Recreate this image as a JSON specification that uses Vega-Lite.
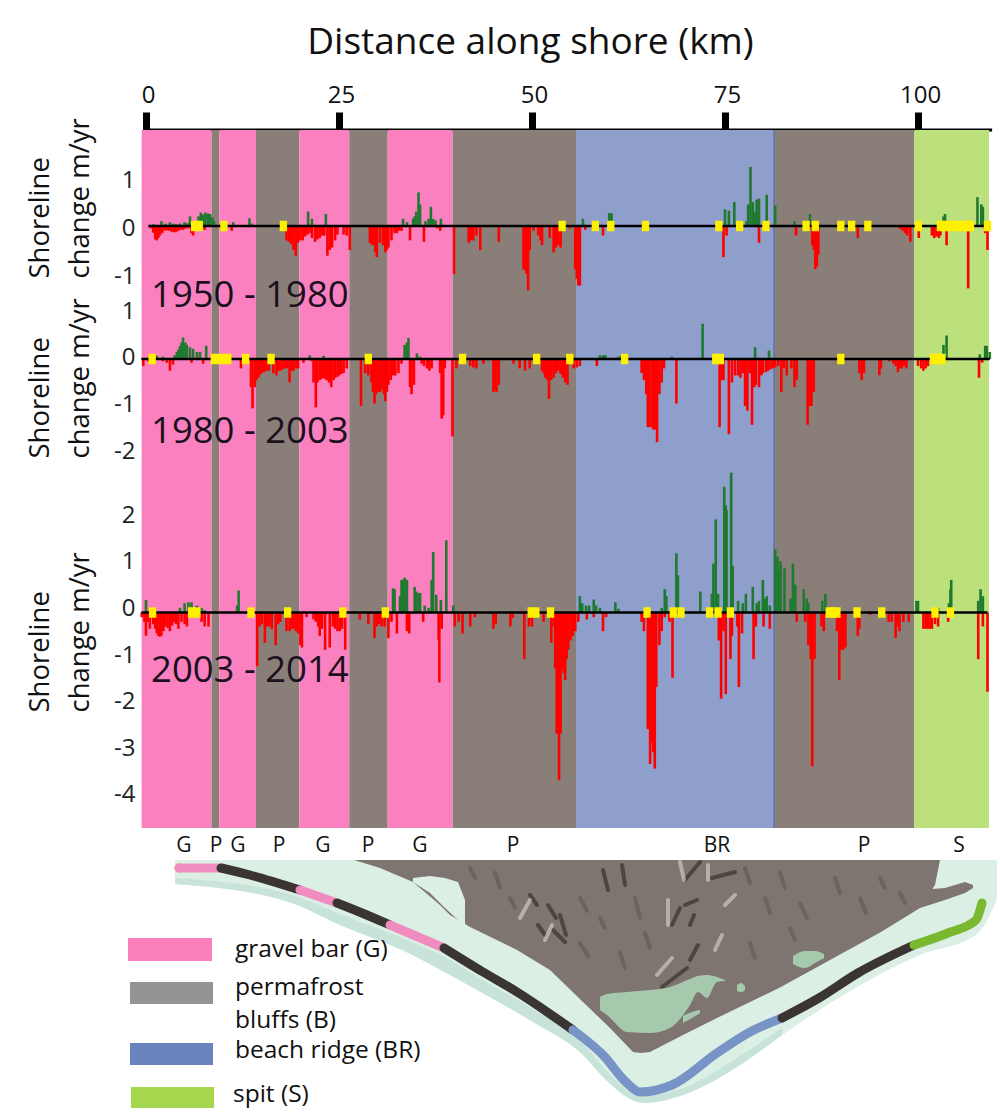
{"$schema":"https://vega.github.io/schema/vega-lite/v6.json","padding":0,"background":"white","spacing":0,"bounds":"flush","config":{"view":{"stroke":null},"font":"Open Sans"},
"datasets":{
"segments":[{"from":-0.56,"to":8.51,"unit":"G"},{"from":8.51,"to":9.49,"unit":"P"},{"from":9.49,"to":14.25,"unit":"G"},{"from":14.25,"to":19.86,"unit":"P"},{"from":19.86,"to":26.33,"unit":"G"},{"from":26.33,"to":31.31,"unit":"P"},{"from":31.31,"to":39.73,"unit":"G"},{"from":39.73,"to":55.7,"unit":"P"},{"from":55.7,"to":81.35,"unit":"BR"},{"from":81.35,"to":99.52,"unit":"P"},{"from":99.52,"to":109.2,"unit":"S"}],
"p1":[{"km":0.6,"v":-0.05},{"km":0.95,"v":-0.14},{"km":1.2,"v":-0.28},{"km":1.4,"v":-0.3},{"km":1.6,"v":-0.25},{"km":1.8,"v":-0.2},{"km":2.1,"v":-0.15},{"km":2.4,"v":-0.1},{"km":2.7,"v":-0.09},{"km":3,"v":-0.1},{"km":3.3,"v":-0.12},{"km":3.6,"v":-0.13},{"km":3.9,"v":-0.13},{"km":4.2,"v":-0.1},{"km":4.5,"v":-0.08},{"km":4.8,"v":-0.08},{"km":5.1,"v":-0.06},{"km":5.5,"v":-0.05},{"km":5.9,"v":-0.15},{"km":6.1,"v":-0.2},{"km":7.6,"v":-0.08},{"km":11.1,"v":-0.1},
{"km":1,"v":0.04},{"km":2,"v":0.1},{"km":2.5,"v":0.05},{"km":3.1,"v":0.08},{"km":3.5,"v":0.05},{"km":3.9,"v":0.04},{"km":4.4,"v":0.05},{"km":5,"v":0.08},{"km":5.4,"v":0.06},{"km":5.7,"v":0.2},{"km":6.8,"v":0.2},{"km":7.1,"v":0.28},{"km":7.4,"v":0.24},{"km":7.7,"v":0.28},{"km":8,"v":0.26},{"km":8.3,"v":0.25},{"km":8.6,"v":0.18},{"km":8.8,"v":0.1},{"km":11.3,"v":0.08},{"km":13.4,"v":0.16},{"km":13.7,"v":0.05},
{"km":18.2,"v":-0.3},{"km":18.5,"v":-0.33},{"km":18.8,"v":-0.38},{"km":19.1,"v":-0.5},{"km":19.4,"v":-0.62},{"km":19.7,"v":-0.35},{"km":20,"v":-0.3},{"km":20.3,"v":-0.3},{"km":20.6,"v":-0.22},{"km":20.9,"v":-0.18},{"km":21.2,"v":-0.15},{"km":21.5,"v":-0.25},{"km":21.9,"v":-0.33},{"km":22.2,"v":-0.28},{"km":22.5,"v":-0.25},{"km":22.8,"v":-0.2},{"km":23.1,"v":-0.2},{"km":23.5,"v":-0.62},{"km":23.8,"v":-0.5},{"km":24.1,"v":-0.45},{"km":24.5,"v":-0.3},{"km":24.8,"v":-0.18},{"km":25.6,"v":-0.18},{"km":26,"v":-0.2},{"km":26.4,"v":-0.5},
{"km":29,"v":-0.35},{"km":29.2,"v":-0.38},{"km":29.4,"v":-0.4},{"km":29.7,"v":-0.55},{"km":29.9,"v":-0.65},{"km":30.3,"v":-0.35},{"km":30.7,"v":-0.4},{"km":31,"v":-0.55},{"km":31.2,"v":-0.5},{"km":31.4,"v":-0.45},{"km":31.8,"v":-0.3},{"km":32.2,"v":-0.15},{"km":32.5,"v":-0.15},{"km":32.8,"v":-0.1},{"km":33.1,"v":-0.1},{"km":34.2,"v":-0.3},{"km":36,"v":-0.33},{"km":37.7,"v":-0.05},{"km":38.1,"v":-0.1},
{"km":21,"v":0.3},{"km":21.5,"v":0.15},{"km":23.3,"v":0.25},{"km":33.3,"v":0.15},{"km":33.8,"v":0.08},{"km":34.6,"v":0.15},{"km":34.8,"v":0.2},{"km":35,"v":0.3},{"km":35.3,"v":0.7},{"km":35.5,"v":0.45},{"km":36.2,"v":0.1},{"km":36.6,"v":0.15},{"km":36.9,"v":0.4},{"km":37.2,"v":0.15},{"km":37.5,"v":0.12},{"km":38.2,"v":0.15},
{"km":39.9,"v":-1.0},{"km":41.8,"v":-0.35},{"km":42.1,"v":-0.3},{"km":42.4,"v":-0.3},{"km":42.8,"v":-0.2},{"km":43.3,"v":-0.5},{"km":45.7,"v":-0.33},{"km":48.9,"v":-0.9},{"km":49.1,"v":-0.92},{"km":49.3,"v":-1.0},{"km":49.5,"v":-1.34},{"km":49.7,"v":-0.5},{"km":50.2,"v":-0.1},{"km":50.8,"v":-0.2},{"km":51.1,"v":-0.3},{"km":51.3,"v":-0.4},{"km":52.3,"v":-0.25},{"km":52.8,"v":-0.55},{"km":53.1,"v":-0.45},{"km":53.4,"v":-0.4},{"km":53.7,"v":-0.45},{"km":54.9,"v":-0.05},{"km":55.6,"v":-0.9},{"km":55.8,"v":-1.1},{"km":56,"v":-1.24},{"km":56.2,"v":-1.24},{"km":56.9,"v":-0.08},{"km":56.6,"v":0.15},{"km":59.2,"v":-0.2},{"km":60,"v":0.27},{"km":60.3,"v":0.27},
{"km":74.8,"v":-0.65},{"km":75.2,"v":-0.2},{"km":75,"v":0.35},{"km":75.5,"v":0.32},{"km":76.2,"v":0.5},{"km":77.8,"v":0.1},{"km":78,"v":0.45},{"km":78.3,"v":1.23},{"km":78.6,"v":0.5},{"km":78.9,"v":0.3},{"km":79.1,"v":0.55},{"km":79.4,"v":0.57},{"km":80.4,"v":0.65},{"km":80,"v":0.1},{"km":81.5,"v":0.42},{"km":79.4,"v":-0.35},{"km":84,"v":0.1},{"km":84.2,"v":-0.2},{"km":86,"v":0.25},{"km":86.3,"v":-0.4},{"km":86.5,"v":-0.5},{"km":86.7,"v":-0.9},{"km":86.9,"v":-0.85},{"km":87.1,"v":-0.6},{"km":92.2,"v":-0.25},{"km":97.7,"v":-0.06},{"km":98,"v":-0.1},{"km":98.3,"v":-0.15},{"km":98.6,"v":-0.2},{"km":99,"v":-0.33},{"km":100.1,"v":-0.25},{"km":101.8,"v":-0.2},{"km":102.1,"v":-0.25},{"km":102.4,"v":-0.22},{"km":102.7,"v":-0.25},{"km":102.9,"v":-0.2},{"km":103.3,"v":0.2},{"km":103.5,"v":0.25},{"km":103.7,"v":-0.4},{"km":106.5,"v":-1.3},{"km":107.7,"v":0.6},{"km":108.2,"v":0.45},{"km":108.4,"v":0.4},{"km":109,"v":-0.5},{"km":108.7,"v":-0.15}],
"p2":[{"km":-0.35,"v":-0.15},{"km":0.3,"v":-0.05},{"km":1.4,"v":0.07},{"km":2.2,"v":0.05},{"km":3.7,"v":0.08},{"km":4,"v":0.15},{"km":4.2,"v":0.2},{"km":4.4,"v":0.28},{"km":4.6,"v":0.35},{"km":4.8,"v":0.46},{"km":5.1,"v":0.35},{"km":5.3,"v":0.3},{"km":5.7,"v":0.25},{"km":6.1,"v":0.22},{"km":6.6,"v":0.15},{"km":7,"v":0.15},{"km":7.8,"v":0.28},{"km":33.5,"v":0.3},{"km":33.8,"v":0.35},{"km":34,"v":0.45},{"km":35.1,"v":0.12},{"km":35.5,"v":0.05},{"km":21.2,"v":0.08},{"km":23,"v":0.07},
{"km":2.2,"v":-0.05},{"km":2.7,"v":-0.08},{"km":3.1,"v":-0.25},{"km":3.5,"v":-0.12},{"km":5.9,"v":-0.08},{"km":7.4,"v":-0.1},{"km":12.3,"v":-0.2},
{"km":13.6,"v":-0.6},{"km":13.8,"v":-1.05},{"km":14.1,"v":-0.6},{"km":14.3,"v":-0.45},{"km":14.55,"v":-0.4},{"km":14.8,"v":-0.33},{"km":15,"v":-0.3},{"km":15.3,"v":-0.28},{"km":15.6,"v":-0.25},{"km":15.9,"v":-0.25},{"km":16.5,"v":-0.3},{"km":16.9,"v":-0.35},{"km":17.1,"v":-0.25},{"km":17.4,"v":-0.25},{"km":17.7,"v":-0.22},{"km":18,"v":-0.2},{"km":18.3,"v":-0.2},{"km":18.6,"v":-0.5},{"km":18.9,"v":-0.25},{"km":19.1,"v":-0.25},{"km":19.4,"v":-0.2},{"km":19.7,"v":-0.2},{"km":20.4,"v":-0.08},{"km":21.5,"v":-0.05},{"km":21.7,"v":-0.5},{"km":22,"v":-1.03},{"km":22.2,"v":-0.5},{"km":22.5,"v":-0.45},{"km":22.8,"v":-0.42},{"km":23,"v":-0.4},{"km":23.2,"v":-0.42},{"km":23.4,"v":-0.45},{"km":23.7,"v":-0.5},{"km":24,"v":-0.6},{"km":24.3,"v":-0.45},{"km":24.5,"v":-0.4},{"km":24.8,"v":-0.38},{"km":25,"v":-0.35},{"km":25.3,"v":-0.32},{"km":25.6,"v":-0.3},{"km":26,"v":-0.2},
{"km":27.85,"v":-1.0},{"km":28.4,"v":-0.3},{"km":28.8,"v":-0.35},{"km":29.2,"v":-0.5},{"km":29.4,"v":-0.7},{"km":29.6,"v":-0.95},{"km":29.8,"v":-0.75},{"km":30.1,"v":-0.7},{"km":30.3,"v":-0.7},{"km":30.5,"v":-0.65},{"km":30.8,"v":-0.75},{"km":31,"v":-0.9},{"km":31.2,"v":-0.7},{"km":31.4,"v":-0.55},{"km":31.7,"v":-0.45},{"km":32,"v":-0.35},{"km":32.3,"v":-0.35},{"km":32.7,"v":-0.3},{"km":33.1,"v":-0.1},{"km":34.2,"v":-0.6},{"km":34.4,"v":-0.75},{"km":34.7,"v":-0.55},{"km":35.7,"v":-0.1},{"km":36,"v":-0.15},{"km":36.4,"v":-0.2},{"km":36.7,"v":-0.25},{"km":37,"v":-0.2},{"km":38.1,"v":-0.3},{"km":38.3,"v":-1.27},{"km":38.5,"v":-1.2},{"km":38.7,"v":-0.2},{"km":39.7,"v":-1.65},{"km":40.2,"v":-0.2},{"km":42,"v":-0.15},{"km":42.4,"v":-0.18},{"km":42.8,"v":-0.2},{"km":43.7,"v":-0.1},{"km":45,"v":-0.7},{"km":45.2,"v":-0.65},{"km":45.4,"v":-0.7},{"km":45.7,"v":-0.55},{"km":47.6,"v":-0.1},{"km":48.4,"v":-0.2},{"km":49.1,"v":-0.25},{"km":49.7,"v":-0.2},{"km":51.3,"v":-0.25},{"km":51.5,"v":-0.3},{"km":51.7,"v":-0.4},{"km":52,"v":-0.45},{"km":52.2,"v":-0.85},{"km":52.5,"v":-0.45},{"km":52.8,"v":-0.4},{"km":53.1,"v":-0.3},{"km":53.4,"v":-0.25},{"km":53.7,"v":-0.32},{"km":54,"v":-0.4},{"km":54.3,"v":-0.5},{"km":54.6,"v":-0.55},{"km":55.4,"v":-0.2},{"km":55.8,"v":-0.18},{"km":56.2,"v":-0.15},{"km":58.4,"v":-0.15},{"km":58.8,"v":0.08},{"km":59.2,"v":0.08},{"km":59.5,"v":0.08},{"km":61.2,"v":0.05},{"km":61.6,"v":0.07},
{"km":64.2,"v":-0.3},{"km":64.5,"v":-0.45},{"km":64.8,"v":-0.75},{"km":65,"v":-1.45},{"km":65.2,"v":-1.45},{"km":65.5,"v":-1.45},{"km":65.7,"v":-1.5},{"km":65.9,"v":-1.5},{"km":66.2,"v":-1.77},{"km":66.5,"v":-0.75},{"km":66.8,"v":-0.5},{"km":67.1,"v":-0.2},{"km":68.1,"v":0.05},{"km":68.7,"v":-0.95},{"km":72.1,"v":0.75},{"km":74.3,"v":-1.45},{"km":74.6,"v":-0.45},{"km":74.8,"v":-0.45},{"km":75.5,"v":-1.6},{"km":75.9,"v":-0.5},{"km":76.3,"v":-0.35},{"km":76.7,"v":-0.35},{"km":77,"v":-0.4},{"km":77.3,"v":-0.3},{"km":77.6,"v":-1.0},{"km":77.9,"v":-1.1},{"km":78.2,"v":-0.3},{"km":78.5,"v":-1.4},{"km":78.8,"v":-0.6},{"km":79,"v":-0.55},{"km":79.4,"v":-0.6},{"km":79.7,"v":-0.35},{"km":79.9,"v":-0.3},{"km":80.3,"v":-0.28},{"km":80.6,"v":-0.25},{"km":80.9,"v":-0.22},{"km":81.2,"v":-0.2},{"km":81.5,"v":-0.18},{"km":81.9,"v":-0.15},{"km":82.3,"v":-0.7},{"km":82.6,"v":-0.2},{"km":83,"v":-0.35},{"km":83.6,"v":-0.2},{"km":84,"v":-0.6},{"km":84.3,"v":-0.45},{"km":85.7,"v":-1.4},{"km":86,"v":-1.0},{"km":86.2,"v":-1.0},{"km":86.5,"v":-0.7},{"km":78.9,"v":0.25},{"km":80.7,"v":0.18},{"km":92.4,"v":-0.3},{"km":92.7,"v":-0.45},{"km":93,"v":-0.3},{"km":95,"v":-0.35},{"km":95.2,"v":-0.2},{"km":96.3,"v":-0.05},{"km":96.8,"v":-0.1},{"km":97.1,"v":-0.15},{"km":97.4,"v":-0.28},{"km":97.7,"v":-0.2},{"km":97.9,"v":-0.2},{"km":98.2,"v":-0.15},{"km":98.5,"v":-0.2},{"km":100,"v":-0.15},{"km":100.4,"v":-0.2},{"km":100.7,"v":-0.25},{"km":101,"v":-0.2},{"km":101.3,"v":-0.15},{"km":103.3,"v":0.3},{"km":103.7,"v":0.5},{"km":107.9,"v":-0.4},{"km":108,"v":0.1},{"km":108.7,"v":0.28},{"km":108.9,"v":0.28},{"km":109.3,"v":0.15},{"km":108.3,"v":-0.08}],
"p3":[{"km":0,"v":0.27},{"km":4.4,"v":0.1},{"km":5,"v":0.2},{"km":5.5,"v":0.22},{"km":5.9,"v":0.22},{"km":6.6,"v":0.15},{"km":7.2,"v":0.1},{"km":7.6,"v":0.05},{"km":11.8,"v":0.15},{"km":12,"v":0.47},{"km":32,"v":0.52},{"km":32.2,"v":0.5},{"km":32.9,"v":0.35},{"km":33.1,"v":0.7},{"km":33.3,"v":0.7},{"km":33.5,"v":0.75},{"km":33.8,"v":0.7},{"km":34.8,"v":0.55},{"km":35,"v":0.45},{"km":35.3,"v":0.42},{"km":35.5,"v":0.42},{"km":36.1,"v":0.15},{"km":36.6,"v":0.1},{"km":37,"v":0.7},{"km":37.2,"v":1.3},{"km":37.6,"v":0.38},{"km":38.2,"v":0.27},{"km":38.9,"v":1.55},{"km":39.8,"v":0.15},
{"km":-0.55,"v":-0.1},{"km":-0.2,"v":-0.2},{"km":0,"v":-0.5},{"km":0.3,"v":-0.2},{"km":0.5,"v":-0.35},{"km":0.95,"v":-0.25},{"km":1.2,"v":-0.35},{"km":1.4,"v":-0.45},{"km":1.6,"v":-0.5},{"km":1.8,"v":-0.52},{"km":2,"v":-0.5},{"km":2.25,"v":-0.4},{"km":2.5,"v":-0.3},{"km":2.8,"v":-0.33},{"km":3.1,"v":-0.4},{"km":3.4,"v":-0.28},{"km":3.6,"v":-0.2},{"km":3.9,"v":-0.25},{"km":4.2,"v":-0.35},{"km":4.6,"v":-0.2},{"km":5,"v":-0.25},{"km":5.3,"v":-0.3},{"km":7.2,"v":-0.2},{"km":7.6,"v":-0.3},{"km":8.1,"v":-0.3},
{"km":14.4,"v":-1.15},{"km":14.7,"v":-0.3},{"km":15,"v":-0.25},{"km":15.4,"v":-0.65},{"km":15.7,"v":-0.3},{"km":16,"v":-0.3},{"km":16.3,"v":-0.35},{"km":16.8,"v":-0.7},{"km":17.1,"v":-0.25},{"km":17.4,"v":-0.2},{"km":18.2,"v":-0.4},{"km":18.6,"v":-0.4},{"km":18.9,"v":-0.35},{"km":19.1,"v":-0.35},{"km":19.4,"v":-0.4},{"km":19.7,"v":-0.45},{"km":20,"v":-0.7},{"km":20.2,"v":-0.75},{"km":20.8,"v":-0.1},{"km":21.7,"v":-0.15},{"km":22,"v":-0.2},{"km":22.3,"v":-0.3},{"km":22.5,"v":-0.5},{"km":22.8,"v":-0.35},{"km":23.2,"v":-0.8},{"km":23.8,"v":-0.75},{"km":24.2,"v":-0.3},{"km":24.5,"v":-0.35},{"km":24.8,"v":-0.4},{"km":25.1,"v":-0.4},{"km":25.4,"v":-0.35},{"km":25.8,"v":-0.8},
{"km":27.7,"v":-0.15},{"km":28.8,"v":-0.25},{"km":29.6,"v":-0.55},{"km":29.9,"v":-0.3},{"km":30.2,"v":-0.25},{"km":30.5,"v":-0.3},{"km":30.9,"v":-0.3},{"km":31.4,"v":-0.55},{"km":31.8,"v":-0.2},{"km":32.5,"v":-0.45},{"km":33.8,"v":-0.4},{"km":34.1,"v":-0.45},{"km":35.9,"v":-0.2},{"km":37.9,"v":-0.6},{"km":38,"v":-1.5},{"km":38.3,"v":-0.35},{"km":40,"v":-0.3},{"km":40.5,"v":-0.2},{"km":41,"v":-0.45},{"km":42,"v":-0.3},{"km":42.6,"v":-0.1},{"km":45,"v":-0.35},{"km":45.3,"v":-0.25},{"km":47.2,"v":-0.3},{"km":47.5,"v":-0.12},{"km":49,"v":-1.0},{"km":49.6,"v":-0.3},{"km":50,"v":-0.3},{"km":51.5,"v":-0.2},{"km":52.5,"v":-0.65},{"km":52.8,"v":-0.3},{"km":53,"v":-1.2},{"km":53.2,"v":-2.6},{"km":53.5,"v":-3.6},{"km":53.7,"v":-2.6},{"km":53.9,"v":-1.2},{"km":54.1,"v":-1.3},{"km":54.3,"v":-1.45},{"km":54.5,"v":-1.0},{"km":54.7,"v":-0.8},{"km":55,"v":-0.6},{"km":55.3,"v":-0.5},{"km":55.6,"v":-0.4},{"km":56,"v":-0.2},
{"km":56.2,"v":0.35},{"km":56.5,"v":0.2},{"km":57,"v":0.15},{"km":57.4,"v":0.15},{"km":58,"v":0.28},{"km":58.3,"v":0.15},{"km":58.8,"v":0.1},{"km":60.8,"v":0.22},{"km":61.2,"v":0.08},{"km":66.8,"v":0.1},{"km":67.2,"v":0.5},{"km":67.4,"v":0.35},{"km":68.7,"v":1.27},{"km":68.9,"v":0.8},{"km":71.8,"v":0.45},{"km":73.3,"v":0.4},{"km":73.5,"v":1.05},{"km":73.8,"v":2.0},{"km":74.1,"v":0.4},{"km":74.9,"v":2.7},{"km":75.1,"v":2.3},{"km":75.2,"v":2.2},{"km":75.8,"v":3.0},{"km":76,"v":1.0},{"km":76.7,"v":0.25},{"km":77.3,"v":0.2},{"km":77.7,"v":0.4},{"km":78.6,"v":0.55},{"km":79.1,"v":0.2},{"km":79.4,"v":0.25},{"km":79.9,"v":0.7},{"km":80.2,"v":0.3},{"km":80.4,"v":0.35},{"km":80.8,"v":0.15},{"km":81.5,"v":1.35},{"km":81.8,"v":1.2},{"km":82,"v":0.9},{"km":82.2,"v":1.1},{"km":82.7,"v":0.95},{"km":83.5,"v":0.3},{"km":83.8,"v":1.05},{"km":84.1,"v":0.6},{"km":85.2,"v":0.5},{"km":85.6,"v":0.3},{"km":85.8,"v":0.2},{"km":87.6,"v":0.25},{"km":88,"v":0.4},{"km":99.8,"v":0.25},{"km":100,"v":0.25},{"km":102.6,"v":0.1},{"km":104,"v":0.2},{"km":104.2,"v":0.5},{"km":104.3,"v":0.7},{"km":107.8,"v":0.25},{"km":108.1,"v":0.5},{"km":108.4,"v":0.35},
{"km":57.1,"v":-0.15},{"km":58,"v":-0.1},{"km":59.2,"v":-0.4},{"km":59.6,"v":-0.1},{"km":64.2,"v":-0.2},{"km":64.5,"v":-0.4},{"km":65,"v":-2.5},{"km":65.3,"v":-3.25},{"km":65.5,"v":-2.8},{"km":65.7,"v":-3.0},{"km":65.9,"v":-3.35},{"km":66.1,"v":-1.6},{"km":66.5,"v":-0.7},{"km":66.8,"v":-0.4},{"km":67.2,"v":-0.1},{"km":67.8,"v":-0.2},{"km":68.2,"v":-1.4},{"km":74.2,"v":-0.6},{"km":74.5,"v":-1.85},{"km":74.8,"v":-0.4},{"km":75.1,"v":-1.75},{"km":75.7,"v":-1.0},{"km":75.9,"v":-0.5},{"km":76.6,"v":-0.3},{"km":76.8,"v":-1.6},{"km":77.2,"v":-0.45},{"km":78.7,"v":-1.0},{"km":79,"v":-0.3},{"km":80,"v":-0.3},{"km":80.8,"v":-0.35},{"km":84.3,"v":-0.2},{"km":85.4,"v":-0.2},{"km":85.8,"v":-0.7},{"km":86.1,"v":-1.0},{"km":86.3,"v":-3.3},{"km":86.6,"v":-1.0},{"km":87.5,"v":-0.3},{"km":87.8,"v":-0.4},{"km":89.5,"v":-0.4},{"km":89.8,"v":-1.45},{"km":90,"v":-0.8},{"km":90.3,"v":-0.8},{"km":90.6,"v":-0.75},{"km":92.2,"v":-0.5},{"km":92.4,"v":-0.35},{"km":93.8,"v":-0.05},{"km":96.2,"v":-0.2},{"km":96.6,"v":-0.2},{"km":97.1,"v":-0.55},{"km":97.4,"v":-0.3},{"km":97.6,"v":-0.4},{"km":98.1,"v":-0.2},{"km":98.8,"v":-0.2},{"km":100.7,"v":-0.35},{"km":101,"v":-0.35},{"km":101.3,"v":-0.35},{"km":101.6,"v":-0.35},{"km":101.8,"v":-0.35},{"km":102.2,"v":-0.25},{"km":102.6,"v":-0.3},{"km":103.9,"v":-0.2},{"km":107.8,"v":-1.0},{"km":108.4,"v":-0.3},{"km":109,"v":-1.7}],
"y1":[{"km":6.3},{"km":6.9},{"km":10.1},{"km":17.8},{"km":53.9},{"km":58.2},{"km":60.2},{"km":64.7},{"km":74.2},{"km":76.9},{"km":80.3},{"km":85.5},{"km":86.7},{"km":90},{"km":91.4},{"km":93.5},{"km":100.05},{"km":102.9},{"km":103.6},{"km":104.3},{"km":105},{"km":105.7},{"km":106.2},{"km":106.8},{"km":109}],
"y2":[{"km":0.8},{"km":8.85},{"km":9.8},{"km":10.6},{"km":12.9},{"km":16.2},{"km":28.8},{"km":41},{"km":50.6},{"km":54.9},{"km":62},{"km":73.8},{"km":74.4},{"km":90},{"km":102},{"km":102.6},{"km":103.1}],
"y3":[{"km":0.86},{"km":5.9},{"km":6.6},{"km":13.6},{"km":18.35},{"km":25.5},{"km":31},{"km":49.9},{"km":50.5},{"km":52.4},{"km":64.9},{"km":68.3},{"km":69.3},{"km":73},{"km":74.1},{"km":75.7},{"km":88.5},{"km":89},{"km":89.5},{"km":92.1},{"km":95.3},{"km":102.2},{"km":104.2}],
"sea":[{"e":17.5,"t":25.8,"b":23.4},{"e":28.9,"t":25.8,"b":21.6},{"e":34,"t":25.8,"b":19.3},{"e":40.2,"t":25.8,"b":16.8},{"e":45,"t":25.8,"b":14.3},{"e":48.6,"t":25.8,"b":12.3},{"e":53.3,"t":25.8,"b":9.6},{"e":58.3,"t":25.8,"b":6.3},{"e":60.4,"t":25.8,"b":4},{"e":64.4,"t":25.8,"b":1.5},{"e":68.3,"t":25.8,"b":2.3},{"e":74,"t":25.8,"b":5.3},{"e":78.2,"t":25.8,"b":8.3},{"e":85.2,"t":25.8,"b":12.8},{"e":92,"t":25.8,"b":16.3},{"e":97.6,"t":25.8,"b":18.3},{"e":99.7,"t":25.8,"b":21.8}],
"shelf":[{"e":17.5,"t":24,"b":23.4},{"e":28.9,"t":22.4,"b":21.6},{"e":34,"t":20.4,"b":19.3},{"e":40.2,"t":18,"b":16.8},{"e":45,"t":15.8,"b":14.3},{"e":48.6,"t":13.6,"b":12.3},{"e":53.3,"t":10.9,"b":9.6},{"e":58.3,"t":7.5,"b":6.3},{"e":60.4,"t":5,"b":4},{"e":64.4,"t":2.2,"b":1.5},{"e":68.3,"t":3,"b":2.3},{"e":74,"t":6.2,"b":5.3},{"e":78.2,"t":9,"b":8.3}],
"land":[{"e":35.4,"t":25.8,"b":25.8,"part":"main"},{"e":38,"t":25.8,"b":25,"part":"main"},{"e":41.3,"t":25.8,"b":23.6,"part":"main"},{"e":44,"t":25.8,"b":21.3,"part":"main"},{"e":45,"t":25.8,"b":20.3,"part":"main"},{"e":47,"t":25.8,"b":19.1,"part":"main"},{"e":51.7,"t":25.8,"b":16.8,"part":"main"},{"e":55,"t":25.8,"b":14.8,"part":"main"},{"e":58.3,"t":25.8,"b":11.6,"part":"main"},{"e":61,"t":25.8,"b":9,"part":"main"},{"e":63.3,"t":25.8,"b":6.6,"part":"main"},{"e":64.1,"t":25.8,"b":6.5,"part":"main"},{"e":65,"t":25.8,"b":6.6,"part":"main"},{"e":68.3,"t":25.8,"b":8.3,"part":"main"},{"e":71.7,"t":25.8,"b":10,"part":"main"},{"e":75,"t":25.8,"b":11.6,"part":"main"},{"e":77.9,"t":25.8,"b":13,"part":"main"},{"e":83,"t":25.8,"b":15.8,"part":"main"},{"e":88.1,"t":25.8,"b":18.6,"part":"main"},{"e":92,"t":25.8,"b":21,"part":"main"},{"e":93.5,"t":25.8,"b":23.3,"part":"main"},{"e":94,"t":25.8,"b":25.8,"part":"main"},{"e":92,"t":22.8,"b":21,"part":"spur"},{"e":94.5,"t":23,"b":21.8,"part":"spur"},{"e":96.5,"t":23.6,"b":22.5,"part":"spur"},{"e":97.3,"t":23.3,"b":23,"part":"spur"}],
"lagoon":[{"e":41.3,"t":24,"b":23.6},{"e":43,"t":24.2,"b":22.5},{"e":44.5,"t":24,"b":21},{"e":45.8,"t":23.6,"b":19.8},{"e":46.5,"t":21.8,"b":19.3}],
"lakes":[{"e":60,"t":12.1,"b":10.8,"part":"a"},{"e":60.7,"t":12.4,"b":10.3,"part":"a"},{"e":62.7,"t":12.6,"b":8.6,"part":"a"},{"e":65,"t":12.8,"b":8.5,"part":"a"},{"e":67,"t":13.1,"b":9,"part":"a"},{"e":69,"t":13.9,"b":11.3,"part":"a"},{"e":69.8,"t":14.2,"b":12.6,"part":"a"},{"e":70.7,"t":14.3,"b":12,"part":"a"},{"e":71.7,"t":14.1,"b":13.6,"part":"a"},{"e":72.5,"t":13.8,"b":13.7,"part":"a"},{"e":73.7,"t":13.3,"b":12.7,"part":"b"},{"e":74.1,"t":13.5,"b":12.6,"part":"b"},{"e":74.5,"t":13.2,"b":12.8,"part":"b"},{"e":68.3,"t":10.2,"b":9.5,"part":"c"},{"e":69.2,"t":10.6,"b":10,"part":"c"},{"e":70,"t":10.8,"b":10.5,"part":"c"},{"e":79.3,"t":16.2,"b":15.4,"part":"d"},{"e":80.5,"t":16.7,"b":15,"part":"d"},{"e":81.5,"t":16.7,"b":15.5,"part":"d"},{"e":82.4,"t":16.4,"b":16,"part":"d"}],
"relief":[{"e":47,"n":25,"e2":47.5,"n2":24,"shade":"mid"},{"e":49.5,"n":24.5,"e2":50,"n2":23,"shade":"mid"},{"e":51,"n":22,"e2":51.5,"n2":21,"shade":"mid"},{"e":58,"n":22,"e2":58.7,"n2":20.7,"shade":"mid"},{"e":60,"n":20,"e2":60.5,"n2":19,"shade":"mid"},{"e":63.5,"n":22,"e2":64,"n2":20,"shade":"mid"},{"e":58,"n":17.5,"e2":58.8,"n2":16.2,"shade":"mid"},{"e":62,"n":16.5,"e2":62.5,"n2":15,"shade":"mid"},{"e":64.5,"n":18.5,"e2":65,"n2":17,"shade":"mid"},{"e":74.5,"n":25,"e2":75,"n2":23.5,"shade":"mid"},{"e":76.5,"n":22,"e2":77,"n2":20.5,"shade":"mid"},{"e":78,"n":24.5,"e2":78.5,"n2":23,"shade":"mid"},{"e":80,"n":21.5,"e2":80.7,"n2":20,"shade":"mid"},{"e":83.5,"n":24,"e2":84,"n2":22.5,"shade":"mid"},{"e":86,"n":22,"e2":86.6,"n2":20.5,"shade":"mid"},{"e":75,"n":17.5,"e2":75.5,"n2":16,"shade":"mid"},{"e":79,"n":19,"e2":79.5,"n2":17.8,"shade":"mid"},{"e":88,"n":24,"e2":88.5,"n2":23,"shade":"mid"},{"e":90,"n":22.5,"e2":90.5,"n2":21.5,"shade":"mid"},{"e":53,"n":22.3,"e2":53.7,"n2":21.3,"shade":"dark"},{"e":54.8,"n":21.3,"e2":55.6,"n2":20,"shade":"dark"},{"e":56,"n":20.3,"e2":56.6,"n2":18.3,"shade":"dark"},{"e":53.8,"n":19.3,"e2":54.5,"n2":18.3,"shade":"dark"},{"e":55.3,"n":18.8,"e2":56.5,"n2":17.6,"shade":"dark"},{"e":67.2,"n":19.3,"e2":68,"n2":21,"shade":"dark"},{"e":68.5,"n":21.3,"e2":69.7,"n2":21.8,"shade":"dark"},{"e":69,"n":19.3,"e2":69.4,"n2":20.3,"shade":"dark"},{"e":68.5,"n":23.8,"e2":70,"n2":25.6,"shade":"dark"},{"e":71.2,"n":24,"e2":73.5,"n2":24.6,"shade":"dark"},{"e":66.2,"n":13.1,"e2":68.7,"n2":15,"shade":"dark"},{"e":69,"n":15.8,"e2":69.8,"n2":17.3,"shade":"dark"},{"e":60.3,"n":24.8,"e2":60.8,"n2":22.8,"shade":"dark"},{"e":62.2,"n":25.3,"e2":62.5,"n2":23.3,"shade":"dark"},{"e":52,"n":20,"e2":53,"n2":21.8,"shade":"light"},{"e":54.5,"n":17.8,"e2":55.2,"n2":19.3,"shade":"light"},{"e":65.7,"n":14.3,"e2":67.2,"n2":16,"shade":"light"},{"e":66.8,"n":21.8,"e2":66.8,"n2":19.3,"shade":"light"},{"e":68,"n":25.6,"e2":68.4,"n2":23.8,"shade":"light"},{"e":70.8,"n":25.3,"e2":70.8,"n2":23.8,"shade":"light"},{"e":72.5,"n":21.3,"e2":73.5,"n2":22.3,"shade":"light"},{"e":71.5,"n":16.8,"e2":72.2,"n2":18.3,"shade":"light"}],
"shore":[{"e":17.9,"n":25,"seg":"a","unit":"G"},{"e":22.1,"n":25,"seg":"a","unit":"G"},{"e":22.1,"n":25,"seg":"b","unit":"P"},{"e":25,"n":24.3,"seg":"b","unit":"P"},{"e":30,"n":22.8,"seg":"b","unit":"P"},{"e":30,"n":22.8,"seg":"c","unit":"G"},{"e":33.7,"n":21.5,"seg":"c","unit":"G"},{"e":33.7,"n":21.5,"seg":"d","unit":"P"},{"e":36.2,"n":20.5,"seg":"d","unit":"P"},{"e":39,"n":19.3,"seg":"d","unit":"P"},{"e":39,"n":19.3,"seg":"e","unit":"G"},{"e":44.4,"n":17,"seg":"e","unit":"G"},{"e":44.4,"n":17,"seg":"f","unit":"P"},{"e":48.3,"n":14.6,"seg":"f","unit":"P"},{"e":51.7,"n":12.6,"seg":"f","unit":"P"},{"e":57.3,"n":8.8,"seg":"f","unit":"P"},{"e":57.3,"n":8.8,"seg":"g","unit":"BR"},{"e":60.3,"n":6.3,"seg":"g","unit":"BR"},{"e":62.7,"n":3.5,"seg":"g","unit":"BR"},{"e":64,"n":2.6,"seg":"g","unit":"BR"},{"e":67.2,"n":3.3,"seg":"g","unit":"BR"},{"e":71.7,"n":6.5,"seg":"g","unit":"BR"},{"e":75,"n":8.6,"seg":"g","unit":"BR"},{"e":78.2,"n":10,"seg":"g","unit":"BR"},{"e":78.2,"n":10,"seg":"h","unit":"P"},{"e":81.9,"n":12,"seg":"h","unit":"P"},{"e":85.8,"n":14.5,"seg":"h","unit":"P"},{"e":91.4,"n":17.3,"seg":"h","unit":"P"},{"e":91.4,"n":17.3,"seg":"i","unit":"S"},{"e":94.8,"n":18.5,"seg":"i","unit":"S"},{"e":97.6,"n":19.8,"seg":"i","unit":"S"},{"e":98.2,"n":21.5,"seg":"i","unit":"S"}],
"keys":[{"e":12.8,"e2":21.2,"n":18,"n2":15.7,"unit":"G"},{"e":13,"e2":21.3,"n":13.6,"n2":11.4,"unit":"P"},{"e":13,"e2":21.3,"n":7.5,"n2":5.3,"unit":"BR"},{"e":13.1,"e2":21.4,"n":3.1,"n2":1,"unit":"S"}],
"keylabels":[{"e":23.5,"n":16.1,"label":"gravel bar (G)"},{"e":23.5,"n":12.3,"label":"permafrost"},{"e":23.5,"n":9,"label":"bluffs (B)"},{"e":23.5,"n":6,"label":"beach ridge (BR)"},{"e":23.3,"n":1.6,"label":"spit (S)"}],
"unitlabels":[{"e":18.4,"n":26.6,"label":"G"},{"e":21.6,"n":26.6,"label":"P"},{"e":23.8,"n":26.6,"label":"G"},{"e":27.9,"n":26.6,"label":"P"},{"e":32.3,"n":26.6,"label":"G"},{"e":36.8,"n":26.6,"label":"P"},{"e":42,"n":26.6,"label":"G"},{"e":51.3,"n":26.6,"label":"P"},{"e":71.7,"n":26.6,"label":"BR"},{"e":86.4,"n":26.6,"label":"P"},{"e":95.9,"n":26.6,"label":"S"}]
},
"vconcat":[
{"width":1000,"height":130,"data":{"values":[{"from":0,"to":109.6}]},
 "mark":{"type":"rule","color":"#000","strokeWidth":3},
 "encoding":{"x":{"field":"from","type":"quantitative","scale":{"domain":[-18.91,110.62],"nice":false,"zero":false},
   "axis":{"orient":"top","offset":-130,"values":[0,25,50,75,100],"domain":false,"grid":false,"ticks":true,"tickColor":"#000","tickWidth":7,"tickSize":18,"labelFontSize":24,"labelColor":"#111","labelPadding":5,"labelOffset":2,"labelFlush":false,"labelOverlap":false,"title":"Distance along shore (km)","titleFontSize":37,"titleFontWeight":"normal","titleColor":"#111","titleX":530,"titleY":-77,"titleAlign":"center","titleBaseline":"alphabetic"}},
  "x2":{"field":"to"},"y":{"datum":0,"type":"quantitative","scale":{"domain":[0,130],"nice":false,"zero":false},"axis":null}}},
{"width":1000,"height":182,"layer":[
 {"data":{"name":"segments"},"mark":{"type":"rect"},"encoding":{"x":{"field":"from","type":"quantitative","axis":null,"scale":{"domain":[-18.91,110.62],"nice":false,"zero":false,"padding":0}},"x2":{"field":"to"},"color":{"field":"unit","type":"nominal","legend":null,"scale":{"domain":["G","P","BR","S"],"range":["#fb80bf","#8a7f78","#8e9fcb","#bbe07c"]}}}},
 {"data":{"values":[{"km":81.35}]},"mark":{"type":"rule","color":"#5f74a6","strokeWidth":1.5},"encoding":{"x":{"field":"km","type":"quantitative","axis":null,"scale":{"domain":[-18.91,110.62],"nice":false,"zero":false,"padding":0}}}},
 {"data":{"name":"p1"},"mark":{"type":"bar","width":2.6,"orient":"vertical"},"encoding":{"x":{"field":"km","type":"quantitative","axis":null,"scale":{"domain":[-18.91,110.62],"nice":false,"zero":false,"padding":0}},
   "y":{"field":"v","type":"quantitative","stack":null,"scale":{"domain":[-1.792,2],"nice":false,"zero":false},
     "axis":{"orient":"left","offset":-136,"values":[-1,0,1],"domain":false,"ticks":false,"grid":false,"labelPadding":1,"labelFontSize":24,"labelColor":"#222","labelOffset":3,"labelExpr":"''+datum.value","labelOverlap":false,"labelFlush":false,"title":["Shoreline","change m/yr"],"titleFontSize":27.5,"titleFontWeight":"normal","titleColor":"#111","titleAngle":-90,"titleAlign":"left","titleBaseline":"alphabetic","titleX":-88,"titleY":148,"titleLineHeight":40}},
   "y2":{"datum":0},"color":{"condition":{"test":"datum.v>0","value":"#1f7a30"},"value":"#ff0000"}}},
 {"data":{"values":[{"from":0.3,"to":109.3}]},"mark":{"type":"rule","color":"#000","strokeWidth":2.5},"encoding":{"x":{"field":"from","type":"quantitative","axis":null,"scale":{"domain":[-18.91,110.62],"nice":false,"zero":false,"padding":0}},"x2":{"field":"to"},"y":{"datum":0,"type":"quantitative","scale":{"domain":[-1.792,2],"nice":false,"zero":false}}}},
 {"data":{"name":"y1"},"mark":{"type":"point","shape":"M-0.7,-1H0.7V1H-0.7Z","filled":true,"opacity":1,"color":"#ffef00","size":110},"encoding":{"x":{"field":"km","type":"quantitative","axis":null,"scale":{"domain":[-18.91,110.62],"nice":false,"zero":false,"padding":0}},"y":{"datum":0,"type":"quantitative","scale":{"domain":[-1.792,2],"nice":false,"zero":false}}}},
 {"data":{"values":[{"km":0.65,"v":-1.69,"label":"1950 - 1980"}]},"mark":{"type":"text","align":"left","baseline":"alphabetic","fontSize":36.5,"color":"#1a1020"},"encoding":{"x":{"field":"km","type":"quantitative","axis":null,"scale":{"domain":[-18.91,110.62],"nice":false,"zero":false,"padding":0}},"y":{"field":"v","type":"quantitative","scale":{"domain":[-1.792,2],"nice":false,"zero":false}},"text":{"field":"label"}}}
]},
{"width":1000,"height":158,"layer":[
 {"data":{"name":"segments"},"mark":{"type":"rect"},"encoding":{"x":{"field":"from","type":"quantitative","axis":null,"scale":{"domain":[-18.91,110.62],"nice":false,"zero":false,"padding":0}},"x2":{"field":"to"},"color":{"field":"unit","type":"nominal","legend":null,"scale":{"domain":["G","P","BR","S"],"range":["#fb80bf","#8a7f78","#8e9fcb","#bbe07c"]}}}},
 {"data":{"values":[{"km":81.35}]},"mark":{"type":"rule","color":"#5f74a6","strokeWidth":1.5},"encoding":{"x":{"field":"km","type":"quantitative","axis":null,"scale":{"domain":[-18.91,110.62],"nice":false,"zero":false,"padding":0}}}},
 {"data":{"name":"p2"},"mark":{"type":"bar","width":2.6,"orient":"vertical"},"encoding":{"x":{"field":"km","type":"quantitative","axis":null,"scale":{"domain":[-18.91,110.62],"nice":false,"zero":false,"padding":0}},
   "y":{"field":"v","type":"quantitative","stack":null,"scale":{"domain":[-2.362,1],"nice":false,"zero":false},
     "axis":{"orient":"left","offset":-136,"values":[-2,-1,0,1],"domain":false,"ticks":false,"grid":false,"labelPadding":1,"labelFontSize":24,"labelColor":"#222","labelOffset":-1,"labelExpr":"''+datum.value","labelOverlap":false,"labelFlush":false,"title":["Shoreline","change m/yr"],"titleFontSize":27.5,"titleFontWeight":"normal","titleColor":"#111","titleAngle":-90,"titleAlign":"left","titleBaseline":"alphabetic","titleX":-88,"titleY":146,"titleLineHeight":40}},
   "y2":{"datum":0},"color":{"condition":{"test":"datum.v>0","value":"#1f7a30"},"value":"#ff0000"}}},
 {"data":{"values":[{"from":-0.6,"to":109.3}]},"mark":{"type":"rule","color":"#000","strokeWidth":2.5},"encoding":{"x":{"field":"from","type":"quantitative","axis":null,"scale":{"domain":[-18.91,110.62],"nice":false,"zero":false,"padding":0}},"x2":{"field":"to"},"y":{"datum":0,"type":"quantitative","scale":{"domain":[-2.362,1],"nice":false,"zero":false}}}},
 {"data":{"name":"y2"},"mark":{"type":"point","shape":"M-0.7,-1H0.7V1H-0.7Z","filled":true,"opacity":1,"color":"#ffef00","size":110},"encoding":{"x":{"field":"km","type":"quantitative","axis":null,"scale":{"domain":[-18.91,110.62],"nice":false,"zero":false,"padding":0}},"y":{"datum":0,"type":"quantitative","scale":{"domain":[-2.362,1],"nice":false,"zero":false}}}},
 {"data":{"values":[{"km":0.65,"v":-1.79,"label":"1980 - 2003"}]},"mark":{"type":"text","align":"left","baseline":"alphabetic","fontSize":36.5,"color":"#1a1020"},"encoding":{"x":{"field":"km","type":"quantitative","axis":null,"scale":{"domain":[-18.91,110.62],"nice":false,"zero":false,"padding":0}},"y":{"field":"v","type":"quantitative","scale":{"domain":[-2.362,1],"nice":false,"zero":false}},"text":{"field":"label"}}}
]},
{"width":1000,"height":358,"layer":[
 {"data":{"name":"segments"},"mark":{"type":"rect"},"encoding":{"x":{"field":"from","type":"quantitative","axis":null,"scale":{"domain":[-18.91,110.62],"nice":false,"zero":false,"padding":0}},"x2":{"field":"to"},"color":{"field":"unit","type":"nominal","legend":null,"scale":{"domain":["G","P","BR","S"],"range":["#fb80bf","#8a7f78","#8e9fcb","#bbe07c"]}}}},
 {"data":{"values":[{"km":81.35}]},"mark":{"type":"rule","color":"#5f74a6","strokeWidth":1.5},"encoding":{"x":{"field":"km","type":"quantitative","axis":null,"scale":{"domain":[-18.91,110.62],"nice":false,"zero":false,"padding":0}}}},
 {"data":{"name":"p3"},"mark":{"type":"bar","width":2.6,"orient":"vertical"},"encoding":{"x":{"field":"km","type":"quantitative","axis":null,"scale":{"domain":[-18.91,110.62],"nice":false,"zero":false,"padding":0}},
   "y":{"field":"v","type":"quantitative","stack":null,"scale":{"domain":[-4.624,3.058],"nice":false,"zero":false},
     "axis":{"orient":"left","offset":-136,"values":[-4,-3,-2,-1,0,1,2],"domain":false,"ticks":false,"grid":false,"labelPadding":1,"labelFontSize":24,"labelColor":"#222","labelOffset":-4,"labelExpr":"''+datum.value","labelOverlap":false,"labelFlush":false,"title":["Shoreline","change m/yr"],"titleFontSize":27.5,"titleFontWeight":"normal","titleColor":"#111","titleAngle":-90,"titleAlign":"left","titleBaseline":"alphabetic","titleX":-88,"titleY":242,"titleLineHeight":40}},
   "y2":{"datum":0},"color":{"condition":{"test":"datum.v>0","value":"#1f7a30"},"value":"#ff0000"}}},
 {"data":{"values":[{"from":-0.6,"to":109}]},"mark":{"type":"rule","color":"#000","strokeWidth":2.5},"encoding":{"x":{"field":"from","type":"quantitative","axis":null,"scale":{"domain":[-18.91,110.62],"nice":false,"zero":false,"padding":0}},"x2":{"field":"to"},"y":{"datum":0,"type":"quantitative","scale":{"domain":[-4.624,3.058],"nice":false,"zero":false}}}},
 {"data":{"name":"y3"},"mark":{"type":"point","shape":"M-0.7,-1H0.7V1H-0.7Z","filled":true,"opacity":1,"color":"#ffef00","size":110},"encoding":{"x":{"field":"km","type":"quantitative","axis":null,"scale":{"domain":[-18.91,110.62],"nice":false,"zero":false,"padding":0}},"y":{"datum":0,"type":"quantitative","scale":{"domain":[-4.624,3.058],"nice":false,"zero":false}}}},
 {"data":{"values":[{"km":0.65,"v":-1.49,"label":"2003 - 2014"}]},"mark":{"type":"text","align":"left","baseline":"alphabetic","fontSize":36.5,"color":"#1a1020"},"encoding":{"x":{"field":"km","type":"quantitative","axis":null,"scale":{"domain":[-18.91,110.62],"nice":false,"zero":false,"padding":0}},"y":{"field":"v","type":"quantitative","scale":{"domain":[-4.624,3.058],"nice":false,"zero":false}},"text":{"field":"label"}}}
]},
{"width":1000,"height":290,"layer":[
 {"data":{"name":"sea"},"mark":{"type":"area","color":"#dcefe5","orient":"vertical","interpolate":"monotone"},"encoding":{"x":{"field":"e","type":"quantitative","axis":null,"scale":{"domain":[0,100],"nice":false,"zero":false}},"y":{"field":"t","type":"quantitative","axis":null,"stack":null,"scale":{"domain":[0,29],"nice":false,"zero":false}},"y2":{"field":"b"}}},
 {"data":{"name":"shelf"},"mark":{"type":"area","color":"#c8e3d9","orient":"vertical","interpolate":"monotone"},"encoding":{"x":{"field":"e","type":"quantitative","axis":null,"scale":{"domain":[0,100],"nice":false,"zero":false}},"y":{"field":"t","type":"quantitative","axis":null,"stack":null,"scale":{"domain":[0,29],"nice":false,"zero":false}},"y2":{"field":"b"}}},
 {"data":{"name":"land"},"mark":{"type":"area","color":"#7f7570","orient":"vertical"},"encoding":{"x":{"field":"e","type":"quantitative","axis":null,"scale":{"domain":[0,100],"nice":false,"zero":false}},"y":{"field":"t","type":"quantitative","axis":null,"stack":null,"scale":{"domain":[0,29],"nice":false,"zero":false}},"y2":{"field":"b"},"detail":{"field":"part"}}},
 {"data":{"name":"lagoon"},"mark":{"type":"area","color":"#dcefe5","orient":"vertical"},"encoding":{"x":{"field":"e","type":"quantitative","axis":null,"scale":{"domain":[0,100],"nice":false,"zero":false}},"y":{"field":"t","type":"quantitative","axis":null,"stack":null,"scale":{"domain":[0,29],"nice":false,"zero":false}},"y2":{"field":"b"}}},
 {"data":{"name":"relief"},"mark":{"type":"rule","strokeWidth":4,"opacity":0.6,"strokeCap":"round"},"encoding":{"x":{"field":"e","type":"quantitative","axis":null,"scale":{"domain":[0,100],"nice":false,"zero":false}},"x2":{"field":"e2"},"y":{"field":"n","type":"quantitative","axis":null,"scale":{"domain":[0,29],"nice":false,"zero":false}},"y2":{"field":"n2"},"color":{"field":"shade","type":"nominal","legend":null,"scale":{"domain":["dark","mid","light"],"range":["#2b2523","#5f5652","#d9d5d0"]}}}},
 {"data":{"name":"lakes"},"mark":{"type":"area","color":"#a6c9ad","orient":"vertical","interpolate":"monotone"},"encoding":{"x":{"field":"e","type":"quantitative","axis":null,"scale":{"domain":[0,100],"nice":false,"zero":false}},"y":{"field":"t","type":"quantitative","axis":null,"stack":null,"scale":{"domain":[0,29],"nice":false,"zero":false}},"y2":{"field":"b"},"detail":{"field":"part"}}},
 {"data":{"values":[{"e":17.9,"n":25}]},"mark":{"type":"point","filled":true,"opacity":1,"color":"#f6c945","size":90},"encoding":{"x":{"field":"e","type":"quantitative","axis":null,"scale":{"domain":[0,100],"nice":false,"zero":false}},"y":{"field":"n","type":"quantitative","axis":null,"scale":{"domain":[0,29],"nice":false,"zero":false}}}},
 {"data":{"name":"shore"},"mark":{"type":"line","strokeWidth":9,"strokeCap":"round","strokeJoin":"round","interpolate":"monotone"},"encoding":{"x":{"field":"e","type":"quantitative","axis":null,"scale":{"domain":[0,100],"nice":false,"zero":false}},"y":{"field":"n","type":"quantitative","axis":null,"scale":{"domain":[0,29],"nice":false,"zero":false}},"detail":{"field":"seg"},"color":{"field":"unit","type":"nominal","legend":null,"scale":{"domain":["G","P","BR","S"],"range":["#f08cc0","#3a3433","#7893c6","#7ab82f"]}}}},
 {"data":{"name":"keys"},"mark":{"type":"rect"},"encoding":{"x":{"field":"e","type":"quantitative","axis":null,"scale":{"domain":[0,100],"nice":false,"zero":false}},"x2":{"field":"e2"},"y":{"field":"n","type":"quantitative","axis":null,"scale":{"domain":[0,29],"nice":false,"zero":false}},"y2":{"field":"n2"},"fill":{"field":"unit","type":"nominal","legend":null,"scale":{"domain":["G","P","BR","S"],"range":["#f97fbd","#949494","#6b83be","#a5d84f"]}}}},
 {"data":{"name":"keylabels"},"mark":{"type":"text","align":"left","baseline":"alphabetic","fontSize":24.5,"color":"#111"},"encoding":{"x":{"field":"e","type":"quantitative","axis":null,"scale":{"domain":[0,100],"nice":false,"zero":false}},"y":{"field":"n","type":"quantitative","axis":null,"scale":{"domain":[0,29],"nice":false,"zero":false}},"text":{"field":"label"}}},
 {"data":{"name":"unitlabels"},"mark":{"type":"text","align":"center","baseline":"alphabetic","fontSize":21,"color":"#111"},"encoding":{"x":{"field":"e","type":"quantitative","axis":null,"scale":{"domain":[0,100],"nice":false,"zero":false}},"y":{"field":"n","type":"quantitative","axis":null,"scale":{"domain":[0,29],"nice":false,"zero":false}},"text":{"field":"label"}}}
],"resolve":{"scale":{"color":"independent","fill":"independent"}}}
]}
